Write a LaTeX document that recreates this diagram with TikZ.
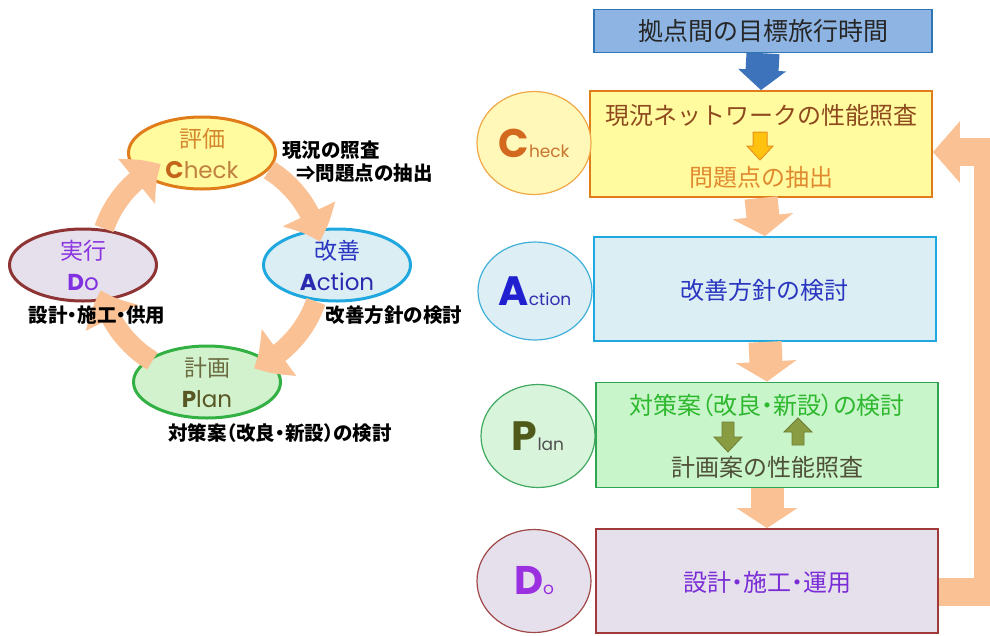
\documentclass[tikz,border=0pt]{standalone}
\usepackage{fontspec}
\setmainfont{Poppins}
\newfontfamily\jp{Noto Sans CJK JP}
\newfontfamily\jpp{Noto Sans CJK JP}[RawFeature=+palt]
\usetikzlibrary{arrows.meta,bending,shapes.geometric}

\definecolor{peach}{HTML}{F9C194}
\definecolor{goalfill}{HTML}{8DB4E2}
\definecolor{goalline}{HTML}{2E75B6}
\definecolor{bluearr}{HTML}{3C73BA}
\definecolor{chkfill}{HTML}{FFFB9E}
\definecolor{chkline}{HTML}{E07C1A}
\definecolor{chktxt}{HTML}{8E4A1E}
\definecolor{chktxtb}{HTML}{E08A30}
\definecolor{actfill}{HTML}{DBEEF4}
\definecolor{actline}{HTML}{1FA8DF}
\definecolor{acttxt}{HTML}{2B36C0}
\definecolor{plnfill}{HTML}{C9F5CB}
\definecolor{plnline}{HTML}{2FA552}
\definecolor{plntxt}{HTML}{2DB82D}
\definecolor{plntxtb}{HTML}{4F5038}
\definecolor{olive}{HTML}{8A9C42}
\definecolor{dofill}{HTML}{E5E0EC}
\definecolor{doline}{HTML}{A03A3A}
\definecolor{dotxt}{HTML}{7A2CD6}
% left cycle
\definecolor{cchk}{HTML}{D4872E}
\definecolor{cchkC}{HTML}{C4661A}
\definecolor{cchkh}{HTML}{C08040}
\definecolor{cact}{HTML}{2A35C0}
\definecolor{cacta}{HTML}{2A2AB0}
\definecolor{cplnline}{HTML}{33B044}
\definecolor{cplnfill}{HTML}{D2F2CE}
\definecolor{cpln}{HTML}{6B6B40}
\definecolor{cplnp}{HTML}{575724}
\definecolor{cdoline}{HTML}{8E3434}
\definecolor{cdo}{HTML}{8A35E0}
\definecolor{cdod}{HTML}{8030E0}
% badges
\definecolor{bchkline}{HTML}{F0A848}
\definecolor{bchkfill}{HTML}{FFF8B8}
\definecolor{bchkC}{HTML}{D2691E}
\definecolor{bchkh}{HTML}{C87530}
\definecolor{bactline}{HTML}{40B0D8}
\definecolor{bactfill}{HTML}{DDEEF5}
\definecolor{bactA}{HTML}{2020D0}
\definecolor{bacta}{HTML}{3030B0}
\definecolor{bplnline}{HTML}{40A860}
\definecolor{bplnfill}{HTML}{D8F5DC}
\definecolor{bplnP}{HTML}{4F5A1A}
\definecolor{bplnl}{HTML}{505050}
\definecolor{bdoline}{HTML}{A04848}
\definecolor{bdoD}{HTML}{9A30E0}
\definecolor{smallarr}{HTML}{FFC20E}
\definecolor{smallline}{HTML}{E8901A}

\begin{document}
\begin{tikzpicture}[x=1pt,y=-1pt,
	cyc/.style={ellipse,line width=3pt,inner sep=0pt,minimum width=147pt,minimum height=72pt,align=center,font=\fontsize{23}{31}\selectfont},
	lbl/.style={font=\jp\bfseries\fontsize{19.5}{22}\selectfont,inner sep=0pt},
	flow/.style={rectangle,line width=1.8pt,inner sep=0pt,minimum width=342pt,minimum height=105pt},
	ftxt/.style={font=\jp\fontsize{24}{26}\selectfont,inner sep=0pt},
	badge/.style={ellipse,line width=1.2pt,inner sep=0pt,minimum width=114pt,minimum height=103pt},
	blockarr/.style={line width=33pt,peach,-{Triangle[width=60pt,length=20pt]}},
	cycarr/.style={line width=20pt,peach,-{Triangle[width=56pt,length=30pt,bend]}}]
	\useasboundingbox (0,0) rectangle (990,635);

	% left: PDCA cycle
	\node[cyc,draw=chkline,fill=chkfill] (chkL) at (202,153)
		{{\jp\color{cchk}評価}\\{\color{cchkC}\bfseries\fontsize{24}{31}\selectfont C}{\color{cchkh}heck}};
	\node[cyc,draw=actline,fill=actfill] (actL) at (337,265)
		{{\jp\color{cact}改善}\\{\color{cacta}{\bfseries A}ction}};
	\node[cyc,draw=cplnline,fill=cplnfill] (plnL) at (207,382)
		{{\jp\color{cpln}計画}\\{\color{cplnp}{\bfseries P}lan}};
	\node[cyc,draw=cdoline,fill=dofill] (doL) at (83,265)
		{{\jp\color{cdo}実行}\\{\color{cdod}{\bfseries D}o}};

	\coordinate (cyc) at (210,265);
	\foreach \a/\b in {-58/-12, 19/67, 121/167, 199/244}
		\draw[cycarr] (cyc) ++(\a:112) arc (\a:\b:112);

	\node[lbl,anchor=west] (chkL1) at (282,150) {現況の照査};
	\node[lbl,anchor=west] (chkL2) at (296,173) {⇒問題点の抽出};
	\node[lbl] (doL1) at (97,315) {\jpp\bfseries 設計・施工・供用};
	\node[lbl] (actL1) at (394,315) {改善方針の検討};
	\node[lbl] (plnL1) at (280,433) {\jpp\bfseries 対策案（改良・新設）の検討};

	% right: flow
	\node[rectangle,line width=1.5pt,draw=goalline,fill=goalfill,minimum width=338pt,minimum height=43pt,
		font=\jp\fontsize{25}{27}\selectfont,text=black!85] (goal) at (763,31) {拠点間の目標旅行時間};
	\node[flow,draw=chkline,fill=chkfill,minimum height=106pt] (chk) at (761,144) {};
	\node[flow,draw=actline,fill=actfill,minimum height=104pt] (act) at (765,289) {};
	\node[flow,draw=plnline,fill=plnfill] (pln) at (767,435) {};
	\node[flow,draw=doline,fill=dofill,minimum height=104pt] (dobox) at (767,581) {};

	\node[ftxt,text=chktxt] (chk1) at (761,115) {現況ネットワークの性能照査};
	\node[ftxt,text=chktxtb] (chk2) at (761,177) {問題点の抽出};
	\node[ftxt,text=acttxt] (act1) at (764,290) {改善方針の検討};
	\node[ftxt,text=plntxt] (pln1) at (767,405) {\jpp 対策案（改良・新設）の検討};
	\node[ftxt,text=plntxtb] (pln2) at (767,467) {計画案の性能照査};
	\node[ftxt,text=dotxt] (do1) at (767,582) {\jpp 設計・施工・運用};

	% small arrows inside the boxes
	\filldraw[fill=smallarr,draw=smallline,line width=1pt]
		(753,132) -- (767,132) -- (767,146) -- (773,146) -- (760,160) -- (747,146) -- (753,146) -- cycle;
	\foreach \cx/\ya/\yh/\yb in {728/422/437/452, 798/445/432/418}
		\filldraw[fill=olive,draw=olive!80!black,line width=0.8pt]
			(\cx-6,\ya) -- (\cx+6,\ya) -- (\cx+6,\yh) -- (\cx+14,\yh) -- (\cx,\yb) -- (\cx-14,\yh) -- (\cx-6,\yh) -- cycle;

	\draw[blockarr,bluearr,-{Triangle[width=47pt,length=20pt]}] (goal.south) -- (chk.north);
	\draw[blockarr] (chk.south) -- (act.north);
	\draw[blockarr] (act.south) -- (pln.north);
	\draw[blockarr] (pln.south) -- (dobox.north);

	\coordinate (fbtop) at (988,152);
	\draw[peach,line width=28pt,line join=miter,-{Triangle[width=60pt,length=27pt]}]
		([yshift=-11pt]dobox.east) -| (fbtop) -- ([yshift=-8pt]chk.east);

	% badges
	\node[badge,draw=bchkline,fill=bchkfill] (chkC) at (534,143)
		{{\color{bchkC}\bfseries\fontsize{40}{40}\selectfont C}{\color{bchkh}\fontsize{17}{17}\selectfont heck}};
	\node[badge,draw=bactline,fill=bactfill,minimum height=98pt] (actC) at (535,291)
		{{\color{bactA}\bfseries\fontsize{41}{41}\selectfont A}{\color{bacta}\fontsize{17}{17}\selectfont ction}};
	\node[badge,draw=bplnline,fill=bplnfill] (plnC) at (538,436)
		{{\color{bplnP}\bfseries\fontsize{41}{41}\selectfont P}{\color{bplnl}\fontsize{17}{17}\selectfont lan}};
	\node[badge,draw=bdoline,fill=dofill] (doC) at (534,581)
		{{\color{bdoD}\bfseries\fontsize{40}{40}\selectfont D}{\color{bdoD}\fontsize{17}{17}\selectfont o}};
\end{tikzpicture}
\end{document}
